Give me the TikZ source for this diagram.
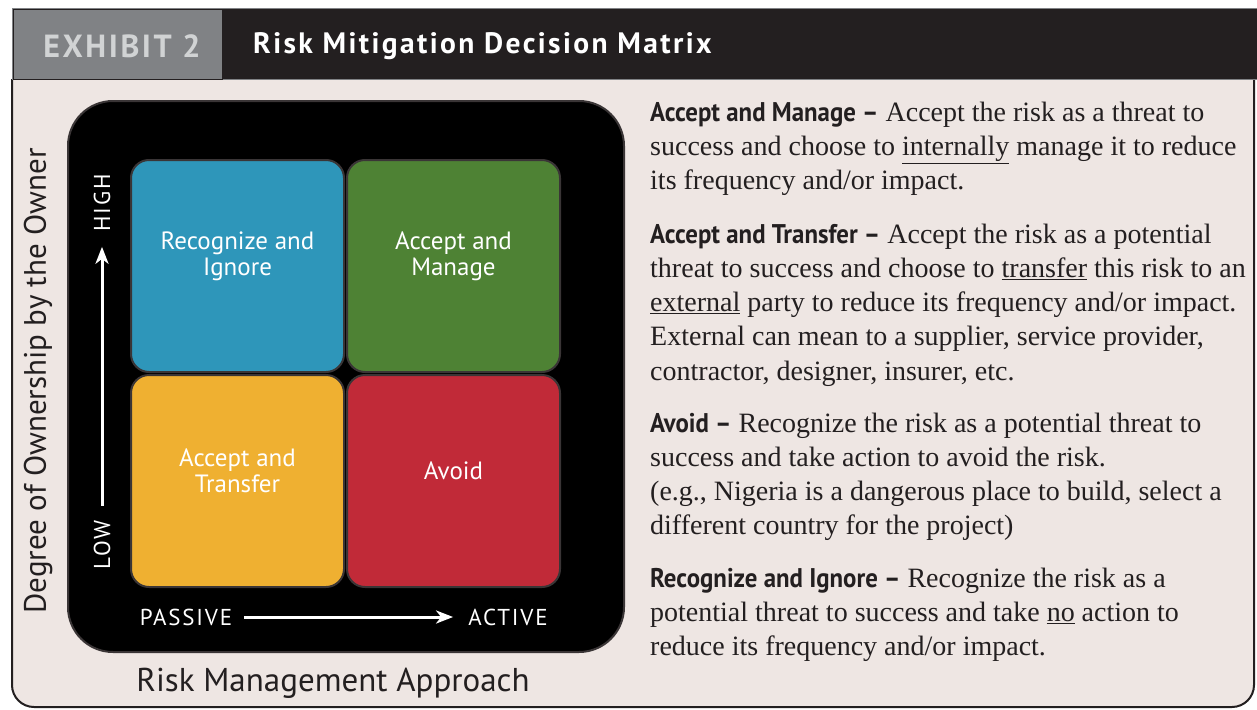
\documentclass[tikz,border=0pt]{standalone}
\usepackage{fontspec}
\usepackage{tikz}
\usetikzlibrary{arrows.meta}
\setmainfont{Liberation Serif}
\setsansfont{PT Sans}
\newfontfamily\headfont{PT Sans}[FakeStretch=0.92]
\newfontfamily\capsfont{PT Sans}[LetterSpace=8]
\newfontfamily\titlefont{PT Sans}[LetterSpace=8]
\definecolor{panelbg}{HTML}{EEE6E3}
\definecolor{barblack}{HTML}{231F20}
\definecolor{exgrey}{HTML}{808285}
\definecolor{exlight}{HTML}{D1D3D4}
\definecolor{cellrim}{HTML}{3A3536}
\definecolor{riskblue}{HTML}{2E96BA}
\definecolor{riskgreen}{HTML}{4E8234}
\definecolor{riskyellow}{HTML}{EFB031}
\definecolor{riskred}{HTML}{C12A38}
\definecolor{textdark}{HTML}{231F20}
\newcommand{\headword}[1]{{\headfont\bfseries\fontsize{27}{34.3}\selectfont #1}}

\begin{document}
\begin{tikzpicture}[x=1pt, y=-1pt,
    cell/.style={draw=cellrim, line width=2pt, rounded corners=18pt,
      minimum width=213pt, minimum height=212pt, inner sep=0pt},
    celltext/.style={text=white, align=center,
      font=\sffamily\fontsize{25}{26}\selectfont},
    axislabel/.style={text=white, inner sep=0pt,
      font=\capsfont\fontsize{23}{23}\selectfont},
    axisarrow/.style={white, line width=3pt,
      -{Stealth[length=17pt, width=13pt, inset=5pt]}},
    para/.style={anchor=base west, inner sep=0pt, align=left, text=textdark,
      font=\fontsize{28}{34.3}\selectfont}]
    \useasboundingbox (0,0) rectangle (1257,709);

    \draw [fill=panelbg, draw=barblack, line width=2pt, rounded corners=22pt]
      (12,79) -- (12,707) -- (1254,707) -- (1254,79);
    \draw [fill=barblack, draw=exgrey, line width=0.8pt] (12,8) rectangle (1257,79);
    \draw [fill=exgrey, draw=barblack, line width=1pt] (13,10) rectangle (222,79);
    \node (exhibit) at (122,46) [text=exlight, font=\titlefont\bfseries\fontsize{32}{32}\selectfont] {EXHIBIT 2};
    \node (title) at (253,46) [anchor=west, inner sep=0pt, text=white,
      font=\titlefont\bfseries\fontsize{29.5}{29.5}\selectfont] {Risk Mitigation Decision Matrix};

    \draw [fill=black, draw=cellrim, line width=2pt, rounded corners=45pt] (68,101) rectangle (624,652);
    \node (ignore) at (237.5,266) [cell, fill=riskblue] {};
    \node (manage) at (453.5,266) [cell, fill=riskgreen] {};
    \node (transfer) at (237.5,481) [cell, fill=riskyellow] {};
    \node (avoid) at (453.5,481) [cell, fill=riskred] {};
    \node (ignoretext) at ([yshift=10pt]ignore.center) [celltext] {Recognize and\\Ignore};
    \node (managetext) at ([yshift=10pt]manage.center) [celltext] {Accept and\\Manage};
    \node (transfertext) at ([yshift=10pt]transfer.center) [celltext] {Accept and\\Transfer};
    \node (avoidtext) at ([yshift=10pt]avoid.center) [celltext] {Avoid};

    \node (high) at (102,203) [axislabel, rotate=90] {HIGH};
    \node (low) at (102,545) [axislabel, rotate=90] {LOW};
    \node (passive) at (186,617) [axislabel] {PASSIVE};
    \node (active) at (508,617) [axislabel] {ACTIVE};
    \draw [axisarrow, shorten <=15pt, shorten >=15pt] (low.east) -- (high.west);
    \draw [axisarrow, shorten <=12pt, shorten >=15pt] (passive.east) -- (active.west);

    \node (ownership) at (38,381) [rotate=90, text=textdark,
      font=\sffamily\fontsize{31}{31}\selectfont] {Degree of Ownership by the Owner};
    \node (approach) at (333,683) [text=textdark,
      font=\sffamily\fontsize{33}{33}\selectfont] {Risk Management Approach};

    \node (managedesc) at (650,189.6) [para] {\headword{Accept and Manage –} Accept the risk as a threat to\\
      success and choose to \underline{internally} manage it to reduce\\
      its frequency and/or impact.};
    \node (transferdesc) at (650,380.2) [para] {\headword{Accept and Transfer –} Accept the risk as a potential\\
      threat to success and choose to \underline{transfer} this risk to an\\
      \underline{external} party to reduce its frequency and/or impact.\\
      External can mean to a supplier, service provider,\\
      contractor, designer, insurer, etc.};
    \node (avoiddesc) at (650,534.9) [para] {\headword{Avoid –} Recognize the risk as a potential threat to\\
      success and take action to avoid the risk.\\
      (e.g., Nigeria is a dangerous place to build, select a\\
      different country for the project)};
    \node (ignoredesc) at (650,655.6) [para] {\headword{Recognize and Ignore –} Recognize the risk as a\\
      potential threat to success and take \underline{no} action to\\
      reduce its frequency and/or impact.};
\end{tikzpicture}
\end{document}
